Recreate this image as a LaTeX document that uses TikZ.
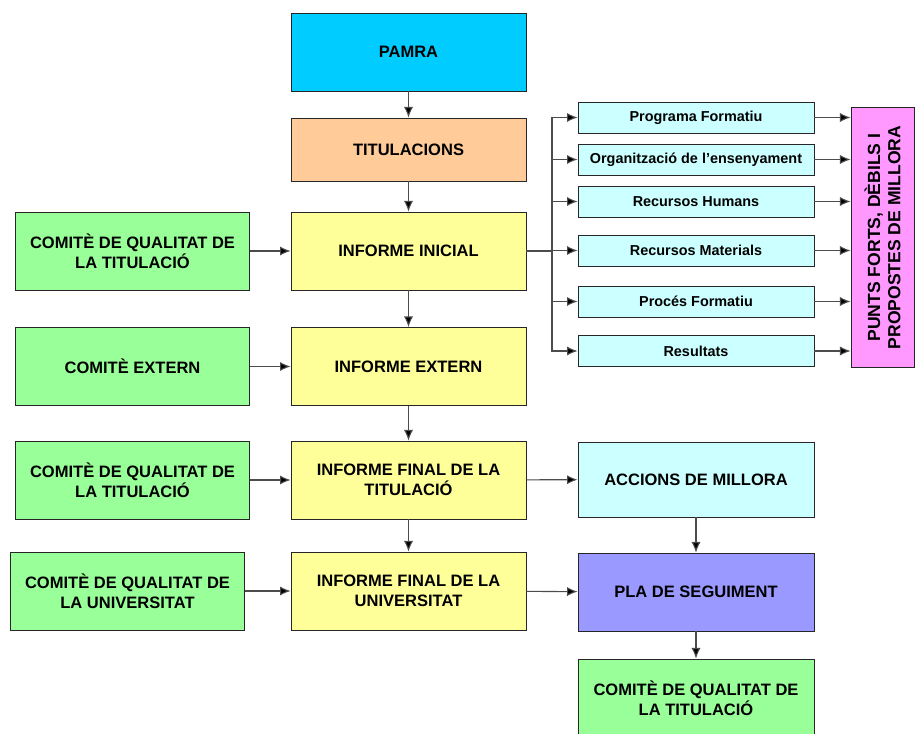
\documentclass[tikz,border=0pt]{standalone}
\usepackage{fontspec}
\setmainfont{Liberation Sans}
\usepackage{tikz}
\usetikzlibrary{arrows,arrows.meta}
\definecolor{pamracol}{HTML}{00CCFF}
\definecolor{titcol}{HTML}{FFCC99}
\definecolor{infcol}{HTML}{FFFF99}
\definecolor{comcol}{HTML}{99FF99}
\definecolor{aspcol}{HTML}{CCFFFF}
\definecolor{puntscol}{HTML}{FF99FF}
\definecolor{placol}{HTML}{9999FF}
\tikzstyle{box}=[draw=black!85, line width=0.55pt, align=center, inner sep=0pt, minimum width=4.7cm, minimum height=1.56cm, font=\fontsize{9.4}{11.4}\selectfont\bfseries]
\tikzstyle{infbox}=[box, fill=infcol]
\tikzstyle{combox}=[box, fill=comcol]
\tikzstyle{aspbox}=[box, fill=aspcol, minimum width=4.72cm, minimum height=0.62cm, font=\fontsize{8.2}{10}\selectfont\bfseries]
\tikzstyle{arr}=[-{Latex[length=6pt,width=5.2pt,fill=black]}, line width=0.6pt, draw=black!70]

\begin{document}
\begin{tikzpicture}[x=0.02cm, y=-0.02cm]
	\useasboundingbox (0,0) rectangle (915,733);
	% central column
	\node[box, fill=pamracol] (pamra) at (408.5,52) {PAMRA};
	\node[box, fill=titcol, minimum height=1.26cm] (tit) at (408.5,149.5) {TITULACIONS};
	\node[infbox] (inicial) at (408.5,251) {INFORME INICIAL};
	\node[infbox] (extern) at (408.5,366.5) {INFORME EXTERN};
	\node[infbox] (finaltit) at (408.5,480) {INFORME FINAL DE LA\\TITULACIÓ};
	\node[infbox] (finaluni) at (408.5,591) {INFORME FINAL DE LA\\UNIVERSITAT};
	% left column
	\node[combox] (cqt) at (132.5,251) {COMITÈ DE QUALITAT DE\\LA TITULACIÓ};
	\node[combox] (cext) at (132.5,366.5) {COMITÈ EXTERN};
	\node[combox] (cqtb) at (132.5,480) {COMITÈ DE QUALITAT DE\\LA TITULACIÓ};
	\node[combox] (cqu) at (127.5,591) {COMITÈ DE QUALITAT DE\\LA UNIVERSITAT};
	% aspects
	\coordinate (branch) at (552,251);
	\node[aspbox] (progf) at (696,117.5) {Programa Formatiu};
	\node[aspbox] (organ) at (696,159.5) {Organització de l’ensenyament};
	\node[aspbox] (rhum) at (696,201.5) {Recursos Humans};
	\node[aspbox] (rmat) at (696,250.5) {Recursos Materials};
	\node[aspbox] (procf) at (696,301.5) {Procés Formatiu};
	\node[aspbox] (result) at (696,351) {Resultats};
	\node[box, fill=puntscol, rotate=90, minimum width=5.22cm, minimum height=1.26cm, font=\fontsize{10}{11.6}\selectfont\bfseries] (punts) at (882.5,237.5) {PUNTS FORTS, DÈBILS I\\PROPOSTES DE MILLORA};
	% right column
	\node[box, fill=aspcol, minimum width=4.72cm, minimum height=1.5cm] (accions) at (696,479.5) {ACCIONS DE MILLORA};
	\node[box, fill=placol, minimum width=4.72cm] (pla) at (696,592) {PLA DE SEGUIMENT};
	\node[combox, minimum width=4.72cm] (cqtc) at (696,698) {COMITÈ DE QUALITAT DE\\LA TITULACIÓ};
	% connectors
	\draw[arr] (pamra) -- (tit);
	\draw[arr] (tit) -- (inicial);
	\draw[arr] (inicial) -- (extern);
	\draw[arr] (extern) -- (finaltit);
	\draw[arr] (finaltit) -- (finaluni);
	\draw[arr] (cqt) -- (inicial);
	\draw[arr] (cext) -- (extern);
	\draw[arr] (cqtb) -- (finaltit);
	\draw[arr] (cqu) -- (finaluni);
	\draw[line width=0.6pt, draw=black!70] (inicial.east) -- (branch);
	\foreach \asp in {progf,organ,rhum,rmat,procf,result}{
		\draw[arr] (branch) |- (\asp.west);
		\draw[arr] (\asp.east) -- (\asp.east -| punts.north);
	}
	\draw[arr] (finaltit) -- (accions);
	\draw[arr] (finaluni) -- (pla);
	\draw[arr] (accions) -- (pla);
	\draw[arr] (pla) -- (cqtc);
\end{tikzpicture}
\end{document}
